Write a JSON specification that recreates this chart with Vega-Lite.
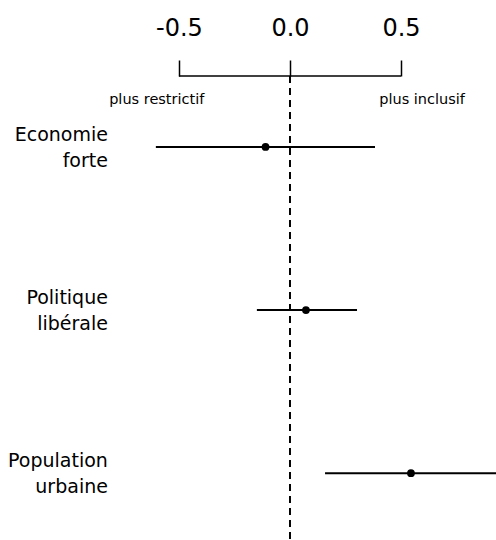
{
  "$schema": "https://vega.github.io/schema/vega-lite/v6.json",
  "width": 496,
  "height": 464,
  "autosize": {"type": "none"},
  "padding": {"top": 76, "left": 0, "right": 0, "bottom": 0},
  "background": "white",
  "config": {"view": {"stroke": null}, "font": "DejaVu Sans"},
  "datasets": {
    "rows": [
      {"label": "Economie\nforte", "pos": 1, "est": -0.11, "lo": -0.604, "hi": 0.383},
      {"label": "Politique\nlibérale", "pos": 2, "est": 0.072, "lo": -0.149, "hi": 0.302},
      {"label": "Population\nurbaine", "pos": 3, "est": 0.545, "lo": 0.158, "hi": 1.0}
    ],
    "notes": [
      {"note": "plus restrictif", "x": -0.6},
      {"note": "plus inclusif", "x": 0.595}
    ],
    "bracket": [{"a": -0.5, "b": 0.5}]
  },
  "layer": [
    {
      "data": {"name": "bracket"},
      "mark": {"type": "rule", "color": "black", "strokeWidth": 1.5},
      "encoding": {
        "x": {"field": "a", "type": "quantitative",
              "scale": {"domain": [-1.306, 0.928], "nice": false, "zero": false},
              "axis": {"orient": "top", "values": [-0.5, 0, 0.5], "title": null,
                       "labelExpr": "replace(format(datum.value, '.1f'), '\u2212', '-')",
                       "domain": false, "grid": false, "tickSize": 16, "tickColor": "black", "tickWidth": 1.5,
                       "labelFontSize": 24, "labelFont": "DejaVu Sans", "labelColor": "black", "labelPadding": 20}},
        "x2": {"field": "b"},
        "y": {"datum": 0.565, "type": "quantitative",
              "scale": {"domain": [0.565, 3.41], "reverse": true, "nice": false, "zero": false},
              "axis": null}
      }
    },
    {
      "data": {"name": "rows"},
      "mark": {"type": "rule", "color": "black", "strokeWidth": 1.5, "strokeDash": [7, 5]},
      "encoding": {"x": {"datum": 0, "type": "quantitative"}}
    },
    {
      "data": {"name": "notes"},
      "mark": {"type": "text", "fontSize": 14.5, "color": "black", "baseline": "middle"},
      "encoding": {
        "x": {"field": "x", "type": "quantitative"},
        "y": {"datum": 0.712, "type": "quantitative"},
        "text": {"field": "note"}
      }
    },
    {
      "data": {"name": "rows"},
      "mark": {"type": "rule", "color": "black", "strokeWidth": 2, "clip": true},
      "encoding": {
        "x": {"field": "lo", "type": "quantitative"},
        "x2": {"field": "hi"},
        "y": {"field": "pos", "type": "quantitative"}
      }
    },
    {
      "data": {"name": "rows"},
      "mark": {"type": "circle", "color": "black", "opacity": 1, "size": 60},
      "encoding": {
        "x": {"field": "est", "type": "quantitative"},
        "y": {"field": "pos", "type": "quantitative"}
      }
    },
    {
      "data": {"name": "rows"},
      "mark": {"type": "text", "align": "right", "baseline": "middle", "dy": -12, "fontSize": 19, "lineBreak": "\n", "lineHeight": 26, "color": "black"},
      "encoding": {
        "x": {"datum": -0.82, "type": "quantitative"},
        "y": {"field": "pos", "type": "quantitative"},
        "text": {"field": "label"}
      }
    }
  ]
}
